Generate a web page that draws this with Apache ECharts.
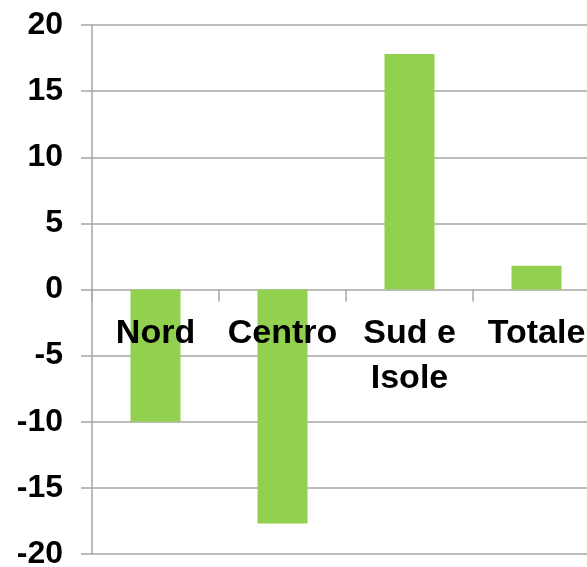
<!DOCTYPE html>
<html>
<head>
<meta charset="utf-8">
<script src="https://cdn.jsdelivr.net/npm/echarts@6/dist/echarts.min.js"></script>
<style>
  html, body { margin: 0; padding: 0; background: #fff; }
  #Mycharts { width: 587px; height: 567px; }
</style>
</head>
<body>
<div id="Mycharts"></div>
<script>
// categorie e valori
const categories = ['Nord', 'Centro', 'Sud e\nIsole', 'Totale']
const values = [-10, -17.7, 17.8, 1.8]
const yMin = -20
const yMax = 20
const yStep = 5

const lineGray = '#a6a6a6'
const font = 'Liberation Sans, Arial, sans-serif'
const gridTop = 25
const gridHeight = 529
// l'asse x con etichette sta sulla linea dello zero
const zeroOffset = -gridHeight * (0 - yMin) / (yMax - yMin)

let Mycharts = echarts.init(document.getElementById('Mycharts'))
Mycharts.setOption({
  animation: false,
  grid: {
    left: 92,
    top: gridTop,
    width: 508, // il grafico esce a destra come nell'originale
    height: gridHeight,
    containLabel: false,
    outerBoundsMode: 'none'
  },
  xAxis: {
    type: 'category',
    data: categories,
    offset: zeroOffset,
    z: 5, // etichette sopra le barre
    axisLine: { show: false, onZero: false },
    axisTick: { show: true, length: 12, inside: false, lineStyle: { color: lineGray, width: 1.5 } },
    axisLabel: {
      margin: 22,
      color: '#000',
      fontFamily: font,
      fontWeight: 'bold',
      fontSize: 34,
      lineHeight: 45,
      interval: 0
    },
    splitLine: { show: false }
  },
  yAxis: {
    type: 'value',
    min: yMin,
    max: yMax,
    interval: yStep,
    axisLine: { show: true, lineStyle: { color: lineGray, width: 1.5 } },
    axisTick: { show: true, length: 11, lineStyle: { color: lineGray, width: 1.5 } },
    axisLabel: {
      margin: 29,
      color: '#000',
      fontFamily: font,
      fontWeight: 'bold',
      fontSize: 32
    },
    splitLine: { show: true, lineStyle: { color: lineGray, width: 1.5 } }
  },
  series: [
    {
      type: 'bar',
      data: values,
      barWidth: 50,
      itemStyle: { color: '#92d050' }
    }
  ]
})
</script>
</body>
</html>
